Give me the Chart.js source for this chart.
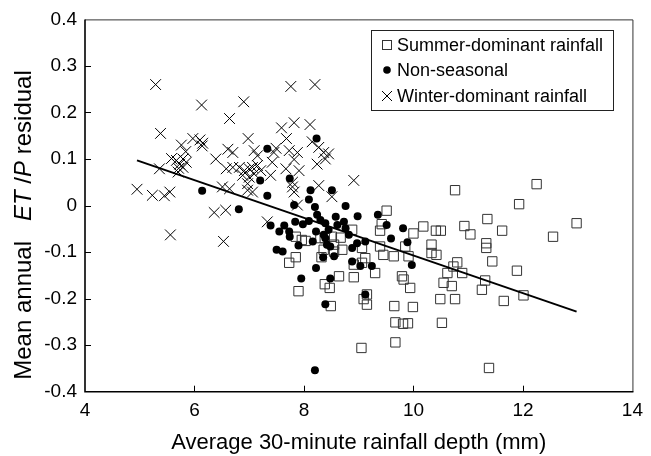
<!DOCTYPE html>
<html>
<head>
<meta charset="utf-8">
<script src="https://cdn.jsdelivr.net/npm/chart.js@4.4.0/dist/chart.umd.min.js"></script>
<style>
  html, body { margin: 0; padding: 0; background: #fff; }
  #wrap { width: 651px; height: 456px; position: relative; }
</style>
</head>
<body>
<div id="wrap"><canvas id="chart" width="651" height="456"></canvas></div>
<script>
// -----------------------------
// Data
// -----------------------------
const xTicks = [4, 6, 8, 10, 12, 14];
const yTicks = [-0.4, -0.3, -0.2, -0.1, 0, 0.1, 0.2, 0.3, 0.4];
const yTickLabels = ['-0.4', '-0.3', '-0.2', '-0.1', '0', '0.1', '0.2', '0.3', '0.4'];

const summerX = [7.85, 7.96, 8.03, 8.38, 8.51, 8.55, 8.55, 7.73, 7.85, 8.32, 8.38, 8.47, 7.90, 8.64,
  9.51, 9.42, 9.39, 10.0, 10.18, 10.41, 10.50, 10.76, 8.67, 8.88, 8.70, 9.06, 9.39, 9.45, 9.64,
  9.85, 9.91, 10.33, 10.33, 10.42, 8.36, 8.91, 9.06, 9.12, 9.30, 8.91, 9.79, 9.82, 9.94, 10.55,
  10.70, 10.80, 10.73, 10.62, 10.89, 9.15, 9.09, 9.15, 10.49, 10.76, 12.25, 11.93, 11.35, 10.93,
  11.04, 11.62, 12.98, 12.55, 11.33, 11.33, 11.44, 11.89, 11.31, 11.25, 12.01, 11.65, 8.49, 9.65,
  9.99, 9.67, 9.81, 9.90, 9.67, 9.05, 10.52, 11.38, 8.30];
const summerY = [-0.067, -0.074, -0.076, -0.070, -0.067, -0.084, -0.099, -0.123, -0.111, -0.111, -0.169, -0.177, -0.184, -0.152,
  -0.011, -0.040, -0.054, -0.060, -0.045, -0.054, -0.054, 0.033, -0.069, -0.052, -0.095, -0.091, -0.088, -0.106, -0.109,
  -0.088, -0.109, -0.084, -0.102, -0.106, -0.095, -0.127, -0.123, -0.113, -0.145, -0.154, -0.152, -0.159, -0.177, -0.166,
  -0.173, -0.122, -0.131, -0.145, -0.145, -0.191, -0.201, -0.213, -0.201, -0.201, 0.046, 0.003, -0.029, -0.044,
  -0.062, -0.054, -0.038, -0.067, -0.081, -0.091, -0.120, -0.140, -0.161, -0.181, -0.193, -0.205, -0.216, -0.216,
  -0.218, -0.251, -0.254, -0.253, -0.294, -0.306, -0.252, -0.349, -0.070];

const nonSeasonalX = [6.14, 7.33, 8.23, 7.20, 7.74, 7.33, 8.12, 8.51, 8.09, 6.81, 7.82, 8.20, 8.24, 7.39,
  7.55, 7.64, 7.73, 7.74, 7.84, 7.98, 8.09, 7.90, 8.16, 8.22, 8.39, 8.30, 8.45, 8.39, 8.42, 7.50,
  7.61, 8.35, 8.55, 8.22, 7.95, 8.48, 8.58, 8.61, 8.76, 8.98, 9.35, 9.51, 9.81, 9.59, 9.89, 9.97,
  8.73, 8.76, 8.82, 8.88, 8.97, 9.12, 8.88, 9.24, 9.12, 8.39, 8.20, 8.36, 9.03, 8.48];
const nonSeasonalY = [0.032, 0.122, 0.144, 0.054, 0.058, 0.021, 0.033, 0.033, 0.013, -0.008, 0.001, -0.003, -0.020, -0.043,
  -0.056, -0.043, -0.056, -0.067, -0.035, -0.040, -0.033, -0.086, -0.077, -0.056, -0.038, -0.031, -0.052, -0.070, -0.084, -0.095,
  -0.099, -0.111, -0.109, -0.134, -0.157, -0.157, -0.024, -0.042, -0.001, -0.023, -0.020, -0.042, -0.049, -0.071, -0.079, -0.128,
  -0.035, -0.049, -0.063, -0.091, -0.081, -0.077, -0.120, -0.130, -0.191, -0.212, -0.354, -0.063, -0.130, -0.088];

const winterX = [5.29, 6.13, 5.38, 5.97, 6.10, 6.15, 6.14, 5.76, 5.84, 5.58, 5.67, 5.73, 5.79, 5.85,
  5.71, 5.79, 5.70, 5.36, 6.39, 4.95, 5.23, 5.45, 5.55, 6.36, 5.56, 7.76, 8.20, 6.90, 6.64, 7.59,
  7.82, 8.11, 7.68, 6.98, 8.15, 8.27, 8.36, 8.45, 8.39, 6.61, 6.70, 7.09, 7.15, 7.45, 7.73, 7.88,
  6.58, 6.70, 6.82, 6.91, 7.00, 7.06, 7.15, 7.09, 7.21, 7.42, 7.39, 7.67, 7.91, 8.24, 7.79, 8.27,
  6.97, 6.97, 6.51, 6.64, 8.51, 6.57, 7.33, 6.53, 8.91, 7.49, 7.82, 6.88, 7.00, 7.06, 7.82, 7.79, 7.88];
const winterY = [0.260, 0.216, 0.155, 0.144, 0.141, 0.134, 0.128, 0.130, 0.116, 0.101, 0.097, 0.089, 0.100, 0.093,
  0.080, 0.082, 0.072, 0.079, 0.100, 0.035, 0.022, 0.021, 0.029, -0.015, -0.063, 0.256, 0.260, 0.223, 0.187, 0.167,
  0.178, 0.174, 0.144, 0.144, 0.137, 0.125, 0.114, 0.111, 0.100, 0.121, 0.114, 0.118, 0.107, 0.114, 0.118, 0.114,
  0.079, 0.082, 0.082, 0.075, 0.079, 0.082, 0.086, 0.068, 0.075, 0.093, 0.065, 0.079, 0.075, 0.089, 0.040, 0.043,
  0.047, 0.033, 0.040, 0.036, 0.019, -0.010, -0.035, -0.077, 0.054, 0.123, 0.099, 0.065, 0.061, 0.029, 0.029, 0.050, 0.001];

// fitted line, end points
const trendX = [4.95, 12.98];
const trendY = [0.097, -0.228];

const legendLabels = ['Summer-dominant rainfall', 'Non-seasonal', 'Winter-dominant rainfall'];

const toPoints = (xs, ys) => xs.map((x, i) => ({ x: x, y: ys[i] }));

// -----------------------------
// Plugins: frame, inner ticks, y title, legend
// -----------------------------
const framePlugin = {
    id: 'frame',
    beforeDatasetsDraw(chart) {
        const { ctx, chartArea: a, scales } = chart;
        ctx.save();
        ctx.strokeStyle = '#000';
        ctx.lineWidth = 1;
        // inner tick marks
        xTicks.slice(1, -1).forEach(v => {
            const px = Math.round(scales.x.getPixelForValue(v)) + 0.5;
            ctx.beginPath(); ctx.moveTo(px, a.bottom); ctx.lineTo(px, a.bottom - 6); ctx.stroke();
        });
        yTicks.slice(1, -1).forEach(v => {
            const py = Math.round(scales.y.getPixelForValue(v)) + 0.5;
            ctx.beginPath(); ctx.moveTo(a.left, py); ctx.lineTo(a.left + 6, py); ctx.stroke();
        });
        // top / right
        ctx.strokeStyle = '#333';
        ctx.beginPath();
        ctx.moveTo(a.left, a.top + 0.5); ctx.lineTo(a.right + 0.5, a.top + 0.5); ctx.lineTo(a.right + 0.5, a.bottom);
        ctx.stroke();
        // left / bottom
        ctx.strokeStyle = '#000';
        ctx.lineWidth = 1.6;
        ctx.beginPath();
        ctx.moveTo(a.left, a.top); ctx.lineTo(a.left, a.bottom); ctx.lineTo(a.right + 1, a.bottom);
        ctx.stroke();
        ctx.restore();
    },
    afterDraw(chart) {
        const ctx = chart.ctx;
        ctx.save();
        // y axis title with italic ET and P
        const size = 24;
        const parts = [
            ['Mean annual   ', 'normal'], ['ET', 'italic'], [' /', 'normal'], ['P', 'italic'], [' residual', 'normal']
        ];
        let total = 0;
        parts.forEach(p => {
            ctx.font = p[1] + ' ' + size + 'px "Liberation Sans", Arial, sans-serif';
            p.push(ctx.measureText(p[0]).width);
            total += p[2];
        });
        ctx.translate(24, 225);
        ctx.rotate(-Math.PI / 2);
        ctx.fillStyle = '#000';
        ctx.textBaseline = 'middle';
        ctx.textAlign = 'left';
        let xPos = -total / 2;
        parts.forEach(p => {
            ctx.font = p[1] + ' ' + size + 'px "Liberation Sans", Arial, sans-serif';
            ctx.fillText(p[0], xPos, 0);
            xPos += p[2];
        });
        ctx.restore();

        // legend box
        ctx.save();
        ctx.fillStyle = '#fff';
        ctx.fillRect(371, 30, 242, 80);
        ctx.strokeStyle = '#222';
        ctx.lineWidth = 1;
        ctx.strokeRect(371.5, 30.5, 242, 80);
        ctx.font = '18px "Liberation Sans", Arial, sans-serif';
        ctx.textBaseline = 'middle';
        ctx.fillStyle = '#000';
        const rows = [45, 70, 96];
        // square
        ctx.strokeStyle = '#333';
        ctx.strokeRect(382.5, rows[0] - 4.5, 9, 9);
        // dot
        ctx.beginPath(); ctx.arc(387, rows[1], 3.8, 0, Math.PI * 2); ctx.fill();
        // cross
        ctx.strokeStyle = '#000';
        ctx.beginPath();
        ctx.moveTo(382, rows[2] - 5); ctx.lineTo(392, rows[2] + 5);
        ctx.moveTo(392, rows[2] - 5); ctx.lineTo(382, rows[2] + 5);
        ctx.stroke();
        legendLabels.forEach((t, i) => ctx.fillText(t, 397, rows[i] + 1));
        ctx.restore();
    }
};

// -----------------------------
// Chart.js
// -----------------------------
const ctx = document.getElementById('chart').getContext('2d');
new Chart(ctx, {
    type: 'scatter',
    data: {
        datasets: [
            { type: 'line', label: 'fit', data: toPoints(trendX, trendY), borderColor: '#000', borderWidth: 2,
              pointRadius: 0, fill: false, order: 0 },
            { label: legendLabels[1], data: toPoints(nonSeasonalX, nonSeasonalY), pointStyle: 'circle',
              pointRadius: 4, backgroundColor: '#000', borderColor: '#000', borderWidth: 0, order: 1 },
            { label: legendLabels[0], data: toPoints(summerX, summerY), pointStyle: 'rect',
              pointRadius: 6.6, backgroundColor: 'rgba(0,0,0,0)', borderColor: '#333', borderWidth: 1, order: 2 },
            { label: legendLabels[2], data: toPoints(winterX, winterY), pointStyle: 'crossRot',
              pointRadius: 7.6, borderColor: '#000', borderWidth: 1, order: 3 }
        ]
    },
    options: {
        responsive: false,
        animation: false,
        layout: { padding: { top: 15.7, right: 16, left: 0, bottom: 0 } },
        plugins: { legend: { display: false }, tooltip: { enabled: false } },
        scales: {
            x: {
                type: 'linear', min: 4, max: 14,
                afterBuildTicks: s => { s.ticks = xTicks.map(v => ({ value: v })); },
                afterFit: s => { s.height = 64.3; },
                grid: { display: false, drawTicks: false },
                border: { display: false },
                ticks: { padding: 8, color: '#000', font: { family: '"Liberation Sans", Arial, sans-serif', size: 19 } },
                title: {
                    display: true, text: 'Average 30-minute rainfall depth (mm)', color: '#000',
                    font: { family: '"Liberation Sans", Arial, sans-serif', size: 22 }, padding: { top: 4, bottom: 0 }
                }
            },
            y: {
                type: 'linear', min: -0.4, max: 0.4,
                afterBuildTicks: s => { s.ticks = yTicks.map(v => ({ value: v })); },
                afterFit: s => { s.width = 85; },
                grid: { display: false, drawTicks: false },
                border: { display: false },
                ticks: {
                    padding: 8, color: '#000', font: { family: '"Liberation Sans", Arial, sans-serif', size: 19 },
                    callback: (v) => { const i = yTicks.findIndex(t => Math.abs(t - v) < 1e-9); return i >= 0 ? yTickLabels[i] : ''; }
                }
            }
        }
    },
    plugins: [framePlugin]
});
</script>
</body>
</html>
